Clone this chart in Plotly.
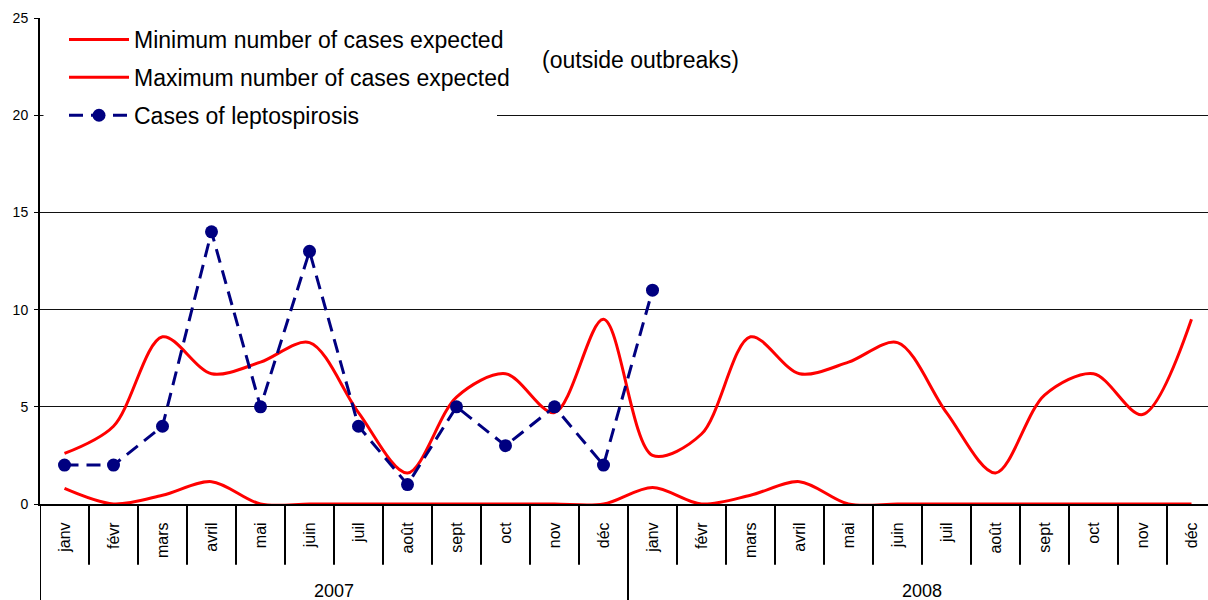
import plotly.graph_objects as go

months = ["janv", "févr", "mars", "avril", "mai", "juin", "juil", "août", "sept", "oct", "nov", "déc"]
years = ["2007", "2008"]
month_labels = months * len(years)
x_idx = list(range(len(month_labels)))

min_expected = [0.8, 0.0, 0.45, 1.15, 0.0, 0.0, 0.0, 0.0, 0.0, 0.0, 0.0, 0.0,
                0.85, 0.0, 0.45, 1.15, 0.0, 0.0, 0.0, 0.0, 0.0, 0.0, 0.0, 0.0]
max_expected = [2.6, 4.0, 8.6, 6.7, 7.3, 8.3, 4.7, 1.6, 5.5, 6.7, 4.7, 9.5,
                2.5, 3.6, 8.6, 6.7, 7.3, 8.3, 4.7, 1.6, 5.6, 6.7, 4.6, 9.5]
cases = [2, 2, 4, 14, 5, 13, 4, 1, 5, 3, 5, 2, 11]

FONT = "Liberation Sans, Arial, sans-serif"
RED = "#FF0000"
NAVY = "#000080"

fig = go.Figure()
fig.add_trace(go.Scatter(x=x_idx, y=min_expected, mode="lines", name="Minimum number of cases expected",
                         line=dict(color=RED, width=3, shape="spline", smoothing=0.9),
                         legendgroup="a"))
fig.add_trace(go.Scatter(x=x_idx, y=max_expected, mode="lines", name="Maximum number of cases expected",
                         line=dict(color=RED, width=3, shape="spline", smoothing=0.9),
                         legendgroup="b"))
fig.add_trace(go.Scatter(x=x_idx[:len(cases)], y=cases, mode="lines+markers", name="Cases of leptospirosis",
                         line=dict(color=NAVY, width=3, dash="14px,8px"),
                         marker=dict(color=NAVY, size=13, symbol="circle"),
                         legendgroup="c"))

n = len(month_labels)
shapes = []
# month separators below the axis
for k in range(n - 1):
    b = k + 0.5
    is_year = (k + 1) % len(months) == 0
    shapes.append(dict(type="line", xref="x", yref="paper", x0=b, x1=b, y0=0, y1=(-0.3 if is_year else -0.125),
                       line=dict(color="black", width=2)))
shapes.append(dict(type="line", xref="x", yref="paper", x0=-0.5, x1=-0.5, y0=0, y1=-0.3,
                   line=dict(color="black", width=2)))
# white patch behind legend hiding part of the 20 gridline
shapes.append(dict(type="rect", xref="paper", yref="y", x0=0.003, x1=(497 - 40) / 1168, y0=19, y1=21,
                   fillcolor="white", line=dict(width=0), layer="above"))

annotations = [dict(x=(i * len(months)) + (len(months) - 1) / 2, y=(504 - 591) / 486, xref="x", yref="paper",
                    xanchor="center", yanchor="middle",
                    text=yr, showarrow=False, font=dict(family=FONT, size=18, color="black"))
               for i, yr in enumerate(years)]
annotations.append(dict(x=(540 - 40) / 1168, y=(504 - 60) / 486, xref="paper", yref="paper", xanchor="left",
                        yanchor="middle", text="(outside outbreaks)", showarrow=False,
                        font=dict(family=FONT, size=23, color="black")))

fig.update_layout(
    width=1208, height=600,
    margin=dict(l=40, r=0, t=18, b=96),
    paper_bgcolor="white", plot_bgcolor="white",
    font=dict(family=FONT, color="black"),
    showlegend=True,
    legend=dict(x=(64 - 40) / 1168, y=1.0, xanchor="left", yanchor="top", bgcolor="rgba(0,0,0,0)",
                font=dict(family=FONT, size=23, color="black"), itemwidth=60,
                traceorder="grouped", tracegroupgap=5),
    shapes=shapes,
    annotations=annotations,
    xaxis=dict(range=[-0.5, -0.5 + 1168 / 49], tickmode="array", tickvals=x_idx, ticktext=month_labels,
               tickangle=-90, tickfont=dict(family=FONT, size=16, color="black"), ticks="",
               showgrid=False, zeroline=False, showline=True, linecolor="black", linewidth=2,
               ticklabelstandoff=10),
    yaxis=dict(range=[0, 25], tickmode="linear", tick0=0, dtick=5, showgrid=True, gridcolor="#111111",
               gridwidth=1.3, zeroline=False, showline=True, linecolor="black", linewidth=2,
               ticks="outside", ticklen=4, tickcolor="black", ticklabelstandoff=3,
               tickfont=dict(family=FONT, size=14, color="black")),
)

fig.write_html("out.html", config={"displayModeBar": False},
               post_script="document.body.style.margin='0px';document.body.style.overflow='hidden';")
